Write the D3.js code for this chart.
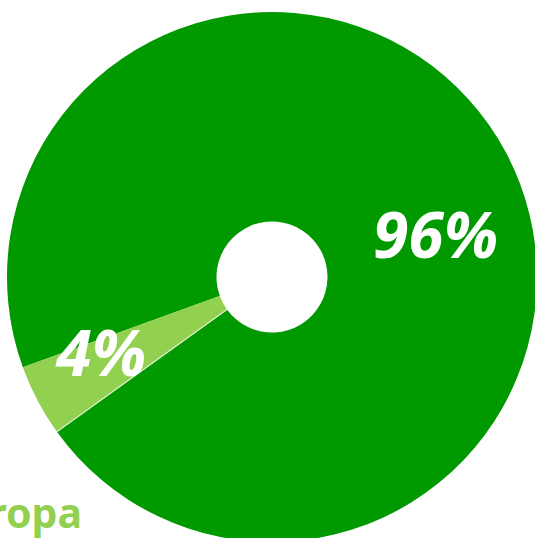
<!DOCTYPE html>
<html>
<head>
<meta charset="utf-8">
<script src="https://cdn.jsdelivr.net/npm/d3@7"></script>
<style>
  html, body { margin:0; padding:0; background:#fff; overflow:hidden; }
  svg { display:block; }
</style>
</head>
<body>
<svg id="chart" width="535" height="538"></svg>
<script>
// share of the two groups
const categories = ["Rest", "Europa"];
const shares = [0.956, 0.044];
const colors = ["#009900", "#92d050"];

const width = 535, height = 538;
const cx = 272, cy = 277;
const outerR = 265, innerR = 55.5;

const svg = d3.select("#chart");
const g = svg.append("g").attr("transform", "translate(" + cx + "," + cy + ")");

const rad = Math.PI / 180;
const start = 250.1 * rad;
const pie = d3.pie()
  .sort(null)
  .value(d => d)
  .startAngle(start)
  .endAngle(start + 2 * Math.PI);

const arcs = pie(shares);

const arc = d3.arc().innerRadius(innerR).outerRadius(outerR);

g.selectAll("path.slice")
  .data(arcs)
  .enter()
  .append("path")
  .attr("class", "slice")
  .attr("d", arc)
  .attr("fill", (d, i) => colors[i]);

// thin light seam where the small slice starts
let seamA = arcs[1].startAngle;
g.append("line")
  .attr("x1", Math.sin(seamA) * innerR)
  .attr("y1", -Math.cos(seamA) * innerR)
  .attr("x2", Math.sin(seamA) * outerR)
  .attr("y2", -Math.cos(seamA) * outerR)
  .attr("stroke", "#dff0d0")
  .attr("stroke-width", 1.2);

// label placement (angle in degrees from 12 o'clock, radius)
const labelAngle = [75.6, 246];
const labelRadius = [169, 187];
function labelPos(d, i) {
  let a = labelAngle[i] * rad;
  return [Math.sin(a) * labelRadius[i], -Math.cos(a) * labelRadius[i]];
}

const fmt = d3.format(".0%");
g.selectAll("text.pct")
  .data(arcs)
  .enter()
  .append("text")
  .attr("class", "pct")
  .attr("transform", (d, i) => "translate(" + labelPos(d, i) + ")")
  .attr("text-anchor", "middle")
  .attr("dy", "0.36em")
  .attr("fill", "#fff")
  .style("font-family", "'Noto Sans', 'Open Sans', sans-serif")
  .style("font-weight", "bold")
  .style("font-style", "italic")
  .style("font-size", "64px")
  .text(d => fmt(d.data));

// category name, mostly clipped at the left edge as in the source
svg.append("text")
  .attr("x", 82)
  .attr("y", 528)
  .attr("text-anchor", "end")
  .attr("fill", colors[1])
  .style("font-family", "'Noto Sans', 'Open Sans', sans-serif")
  .style("font-weight", "bold")
  .style("font-size", "41px")
  .text(categories[1]);
</script>
</body>
</html>
